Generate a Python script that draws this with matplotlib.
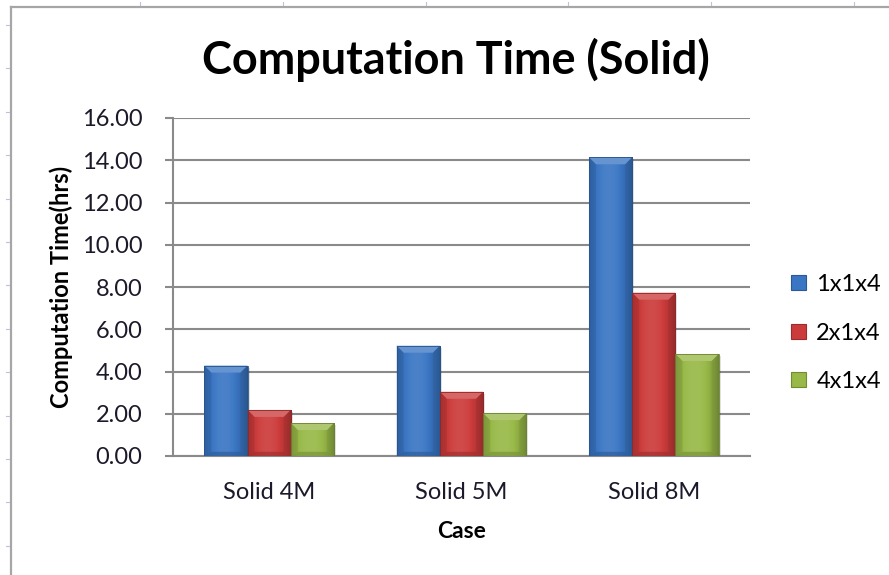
import matplotlib
matplotlib.use("Agg")
import matplotlib.pyplot as plt
import numpy as np
from matplotlib.colors import to_rgb
from matplotlib.patches import Patch, Polygon
from matplotlib.lines import Line2D

# Computation time per case and decomposition
cases = ["Solid 4M", "Solid 5M", "Solid 8M"]
series = ["1x1x4", "2x1x4", "4x1x4"]
t_1x1x4 = [4.28, 5.22, 14.14]
t_2x1x4 = [2.18, 3.04, 7.73]
t_4x1x4 = [1.56, 2.03, 4.83]
yticks = [0, 2, 4, 6, 8, 10, 12, 14, 16]

colors = ["#3a76c4", "#cc3b3b", "#98b948"]
values = [t_1x1x4, t_2x1x4, t_4x1x4]

plt.rcParams['font.family'] = ['Lato', 'DejaVu Sans']

W, H = 889, 575
fig = plt.figure(figsize=(W / 100, H / 100), dpi=100)
ax = fig.add_axes([173 / W, 1 - 456 / H, (750 - 173) / W, (456 - 118) / H])

ax.set_xlim(-0.5, 2.5)
ax.set_ylim(0, 16)

# pixel size in data units, used for the bevel
px_x = 3.0 / (750 - 173)
px_y = 16.0 / (456 - 118)


def shade(c, k):
    r = np.array(to_rgb(c))
    if k >= 0:
        return tuple(r + (1 - r) * k)
    return tuple(r * (1 + k))


def draw_bar(ax, x0, w, h, c):
    # soft shadow
    ax.add_patch(plt.Rectangle((x0 + 2 * px_x, -2 * px_y), w, h, color="#000000",
                               alpha=0.12, lw=0, zorder=2))
    rect = plt.Rectangle((x0, 0), w, h, facecolor=c, lw=0, zorder=3)
    ax.add_patch(rect)
    # horizontal gradient: darker edges, lighter middle
    u = np.linspace(0, 1, 64)
    prof = 0.08 - 0.40 * (np.abs(u - 0.45) / 0.55) ** 2.2
    img = np.array([[shade(c, k) for k in prof]])
    im = ax.imshow(img, extent=(x0, x0 + w, 0, h), aspect="auto", zorder=3.5,
                   interpolation="bilinear")
    im.set_clip_path(rect)
    # top bevel
    bw = 7 * px_x
    bh = 7 * px_y
    top = Polygon([(x0, h), (x0 + w, h), (x0 + w - bw, h - bh), (x0 + bw, h - bh)],
                  closed=True, facecolor=shade(c, 0.22), lw=0, zorder=4)
    ax.add_patch(top)
    # bottom bevel
    bot = Polygon([(x0, 0), (x0 + w, 0), (x0 + w - bw, bh * 0.6), (x0 + bw, bh * 0.6)],
                  closed=True, facecolor=shade(c, -0.2), alpha=0.7, lw=0, zorder=4)
    ax.add_patch(bot)
    # side bevels
    for xs in [(x0, x0 + bw), (x0 + w, x0 + w - bw)]:
        side = Polygon([(xs[0], 0), (xs[0], h), (xs[1], h - bh), (xs[1], bh * 0.6)],
                       closed=True, facecolor=shade(c, -0.2), alpha=0.45, lw=0, zorder=4)
        ax.add_patch(side)
    ax.add_patch(plt.Rectangle((x0, 0), w, h, fill=False, edgecolor=shade(c, -0.3),
                               lw=0.6, zorder=4.5))


bw_data = 0.225
x = np.arange(len(cases))
for i, (vals, c) in enumerate(zip(values, colors)):
    for xi, v in zip(x, vals):
        draw_bar(ax, xi + (i - 1.5) * bw_data, bw_data, v, c)

# axes styling
ax.set_yticks(yticks)
ax.set_yticklabels([f"{v:.2f}" for v in yticks])
ax.set_xticks(x)
ax.set_xticklabels(cases)
ax.yaxis.grid(True, color="#8a8a8a", lw=1.5, zorder=1)
ax.set_axisbelow(True)
for s in ["top", "right"]:
    ax.spines[s].set_visible(False)
for s in ["left", "bottom"]:
    ax.spines[s].set_color("#8a8a8a")
    ax.spines[s].set_linewidth(1.5)
ax.tick_params(axis="y", length=6, width=1.5, color="#8a8a8a", labelsize=17,
               labelcolor="#1a1a2a", pad=16)
ax.tick_params(axis="x", length=0, labelsize=17, labelcolor="#1a1a2a", pad=19)

ax.set_ylabel("Computation Time(hrs)", fontsize=17, fontweight="bold", labelpad=6)
ax.set_xlabel("Case", fontsize=16.5, fontweight="bold", labelpad=13)

fig.text(456 / W, 1 - 60 / H, "Computation Time (Solid)", fontsize=32.4,
         fontweight="bold", ha="center", va="center")

handles = [Patch(facecolor=c, edgecolor=shade(c, -0.25), lw=0.8) for c in colors]
fig.legend(handles, series, loc="center left", bbox_to_anchor=(791 / W, 1 - 333 / H),
           frameon=False, fontsize=17, handlelength=0.62, handleheight=0.62,
           handletextpad=0.45, labelspacing=1.17, borderaxespad=0, borderpad=0)

# worksheet frame around the chart
fc = "#a6a6a6"
fig.add_artist(Line2D([11 / W, 11 / W], [0, 1 - 7 / H], color=fc, lw=1.6))
fig.add_artist(Line2D([11 / W, 1], [1 - 7 / H, 1 - 7 / H], color=fc, lw=1.6))
for yy in np.arange(25, H, 43.4):
    fig.add_artist(Line2D([6 / W, 9 / W], [1 - yy / H] * 2, color="#b8c4d8", lw=0.8))
for xx in np.arange(140, W, 142.8):
    fig.add_artist(Line2D([xx / W] * 2, [1 - 2 / H, 1 - 5 / H], color="#b8c4d8", lw=0.8))

fig.savefig("out.png", dpi=100, facecolor="white")
